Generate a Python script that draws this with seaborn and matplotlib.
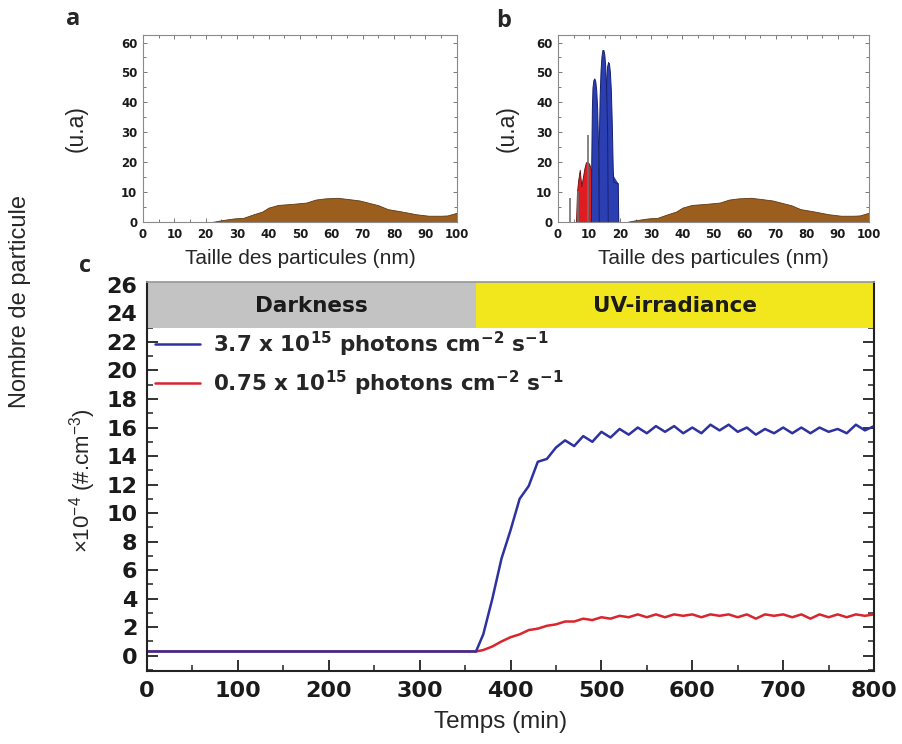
import matplotlib.pyplot as plt
from matplotlib.lines import Line2D
from matplotlib.ticker import MultipleLocator
import pandas as pd
import seaborn as sns

# ---- panels a & b : size distributions (u.a) ----
brown_size = [0, 22, 25, 29, 32, 35, 38, 40, 43, 48, 52, 55, 58, 62, 66, 69, 72, 75, 78, 82, 87, 91, 95, 97, 100]
brown_val = [0, 0, 0.6, 1.2, 1.4, 2.5, 3.5, 4.8, 5.7, 6.1, 6.5, 7.5, 7.9, 8.1, 7.6, 7.2, 6.4, 5.6, 4.3, 3.6, 2.6, 2.1, 2.1, 2.2, 3.1]

red_size = [5.8, 6.1, 6.5, 7.0, 7.5, 8.0, 8.5, 9.0, 9.5, 10.0, 10.5, 11.0, 11.5, 12.0, 12.4]
red_val = [0, 10, 14, 17.5, 12, 15, 18, 20, 20, 19.5, 18, 14, 9, 4, 0]

# blue distribution : a base plus three overlapping modes
blue0_size = [10.6, 10.7, 13.0, 15.0, 19.3, 19.4]
blue0_val = [0, 16, 18, 20, 13, 0]
blue1_size = [10.6, 10.7, 10.9, 11.1, 11.4, 11.7, 12.0, 12.3, 12.6, 12.9, 13.1]
blue1_val = [0, 20, 38, 45, 47.5, 48, 47, 44, 38, 25, 0]
blue2_size = [12.9, 13.1, 13.4, 13.7, 14.0, 14.3, 14.6, 14.9, 15.2, 15.5, 15.8, 16.0]
blue2_val = [0, 25, 42, 51, 55.5, 57.5, 57.5, 56, 52, 44, 30, 0]
blue3_size = [15.0, 15.2, 15.5, 15.8, 16.1, 16.4, 16.7, 17.0, 17.3, 17.6, 17.8, 18.5, 19.2, 19.4]
blue3_val = [0, 35, 47, 52, 53.5, 53, 50, 44, 33, 18, 13.5, 13.2, 13, 0]

spike_size = [3.9, 6.4, 9.8]
spike_val = [7.9, 10.5, 29]

# ---- panel c : particle number vs time ----
time_min = [0, 100, 200, 300, 362, 370, 380, 390, 400, 410, 420, 430, 440, 450, 460, 470, 480,
            490, 500, 510, 520, 530, 540, 550, 560, 570, 580, 590, 600, 610, 620, 630, 640,
            650, 660, 670, 680, 690, 700, 710, 720, 730, 740, 750, 760, 770, 780, 790, 800]
high_flux = [0.3, 0.3, 0.3, 0.3, 0.3, 1.5, 4.0, 6.8, 8.8, 11.0, 11.9, 13.6, 13.8, 14.6, 15.1, 14.7, 15.4,
             15.0, 15.7, 15.3, 15.9, 15.5, 16.0, 15.6, 16.1, 15.7, 16.1, 15.6, 16.0, 15.6, 16.2, 15.8, 16.2,
             15.7, 16.0, 15.5, 15.9, 15.6, 16.0, 15.6, 16.0, 15.6, 16.0, 15.7, 15.9, 15.6, 16.2, 15.8, 16.1]
low_flux = [0.3, 0.3, 0.3, 0.3, 0.3, 0.4, 0.65, 1.0, 1.3, 1.5, 1.8, 1.9, 2.1, 2.2, 2.4, 2.4, 2.6,
            2.5, 2.7, 2.6, 2.8, 2.7, 2.9, 2.7, 2.9, 2.7, 2.9, 2.8, 2.9, 2.7, 2.9, 2.8, 2.9,
            2.7, 2.9, 2.6, 2.9, 2.8, 2.9, 2.7, 2.9, 2.6, 2.9, 2.7, 2.9, 2.7, 2.9, 2.8, 2.9]
series_labels = ["3.7 x 10$^{15}$ photons cm$^{-2}$ s$^{-1}$",
                 "0.75 x 10$^{15}$ photons cm$^{-2}$ s$^{-1}$"]

phase_names = ["Darkness", "UV-irradiance"]
phase_start = [0, 362]
phase_end = [362, 800]
phase_colors = ["#c3c3c3", "#f2e61c"]

sns.set_theme(style="ticks")
plt.rcParams["font.family"] = ["Liberation Sans", "DejaVu Sans"]
plt.rcParams["mathtext.default"] = "regular"

fig = plt.figure(figsize=(9.02, 7.44), dpi=100)
ax_a = fig.add_axes([0.1585, 0.7016, 0.348, 0.2513])
ax_b = fig.add_axes([0.6186, 0.7016, 0.3448, 0.2513])
ax_c = fig.add_axes([0.163, 0.0981, 0.806, 0.5228])

brown = "#9c5e1f"
for ax, ylab_x in ((ax_a, -0.217), (ax_b, -0.167)):
    ax.fill_between(brown_size, brown_val, color=brown, lw=0.6, edgecolor="#5b3a12")
    ax.set_xlim(0, 100)
    ax.set_ylim(0, 62.5)
    ax.xaxis.set_major_locator(MultipleLocator(10))
    ax.xaxis.set_minor_locator(MultipleLocator(5))
    ax.yaxis.set_major_locator(MultipleLocator(10))
    ax.yaxis.set_minor_locator(MultipleLocator(5))
    ax.tick_params(which="both", direction="in", top=True, right=True, color="#777777",
                   width=0.7, labelsize=8.5, pad=4)
    ax.tick_params(which="major", length=3)
    ax.tick_params(which="minor", length=2)
    for lab in ax.get_xticklabels() + ax.get_yticklabels():
        lab.set_fontweight("bold")
        lab.set_fontfamily("DejaVu Sans")
        lab.set_color("#1a1a1a")
    for sp in ax.spines.values():
        sp.set_color("#8a8a8a")
        sp.set_linewidth(0.8)
    ax.set_xlabel("Taille des particules (nm)", fontsize=15, labelpad=6)
    ax.set_ylabel("(u.a)", fontsize=16.5)
    ax.yaxis.set_label_coords(ylab_x + 0.04, 0.5)

ax_b.vlines(spike_size, 0, spike_val, color="#6f6f6f", lw=1.2)
ax_b.fill_between(red_size, red_val, color="#e01b22", edgecolor="#5a0d0d", lw=0.6)
ax_b.fill_between(blue0_size, blue0_val, color="#2b3fb3", lw=0)
for xs, ys in ((blue3_size, blue3_val), (blue2_size, blue2_val), (blue1_size, blue1_val)):
    ax_b.fill_between(xs, ys, color="#2b3fb3", edgecolor="#17206e", lw=0.7)

fig.text(0.081, 0.975, "a", fontsize=17, fontweight="bold", family="Open Sans", ha="center", va="center")
fig.text(0.558, 0.972, "b", fontsize=17, fontweight="bold", family="Open Sans", ha="center", va="center")
fig.text(0.094, 0.643, "c", fontsize=17, fontweight="bold", family="Open Sans", ha="center", va="center")

# panel c
df = pd.DataFrame({
    "time": time_min * 2,
    "value": low_flux + high_flux,
    "serie": [series_labels[1]] * len(time_min) + [series_labels[0]] * len(time_min),
})
sns.lineplot(data=df, x="time", y="value", hue="serie",
             hue_order=[series_labels[1], series_labels[0]],
             palette=["#d9252e", "#2e32a0"], lw=1.8, ax=ax_c, legend=False)

ytop = 26.2
for name, x0, x1, col in zip(phase_names, phase_start, phase_end, phase_colors):
    ax_c.fill_between([x0, x1], 23.0, ytop, color=col, lw=0)
    ax_c.text((x0 + x1) / 2, 24.5, name, ha="center", va="center", fontsize=15.5,
              fontweight="bold", family="DejaVu Sans", color="#1a1a1a")

handles = [Line2D([], [], color="#2e32a0", lw=1.8), Line2D([], [], color="#d9252e", lw=1.8)]
ax_c.legend(handles, series_labels, loc="upper left", bbox_to_anchor=(0.011, 0.878),
            frameon=False, prop={"family": "DejaVu Sans", "weight": "bold", "size": 15.5},
            handlelength=2.1, handletextpad=0.6, labelspacing=0.45, borderpad=0, borderaxespad=0)

ax_c.set_xlim(0, 800)
ax_c.set_ylim(-1.07, ytop)
ax_c.xaxis.set_major_locator(MultipleLocator(100))
ax_c.xaxis.set_minor_locator(MultipleLocator(50))
ax_c.yaxis.set_minor_locator(MultipleLocator(1))
ax_c.set_yticks(range(0, 27, 2))
ax_c.tick_params(which="both", direction="in", right=True, color="#222222", labelsize=16, pad=7)
ax_c.tick_params(which="major", length=8, width=1.3)
ax_c.tick_params(which="minor", length=4, width=1.1)
for lab in ax_c.get_xticklabels() + ax_c.get_yticklabels():
    lab.set_fontweight("bold")
    lab.set_fontfamily("DejaVu Sans")
    lab.set_color("#1a1a1a")
for side in ("left", "bottom", "right"):
    ax_c.spines[side].set_color("#222222")
    ax_c.spines[side].set_linewidth(1.5)
ax_c.spines["top"].set_color("#999999")
ax_c.set_xlabel("Temps (min)", fontsize=17.5)
ax_c.xaxis.set_label_coords(0.486, -0.103)
ax_c.set_ylabel("$\\times$10$^{-4}$ (#.cm$^{-3}$)", fontsize=16)
ax_c.yaxis.set_label_coords(-0.068, 0.49)

fig.text(0.022, 0.595, "Nombre de particule", rotation=90, fontsize=17, ha="center", va="center")

fig.savefig("out.png", dpi=100)
